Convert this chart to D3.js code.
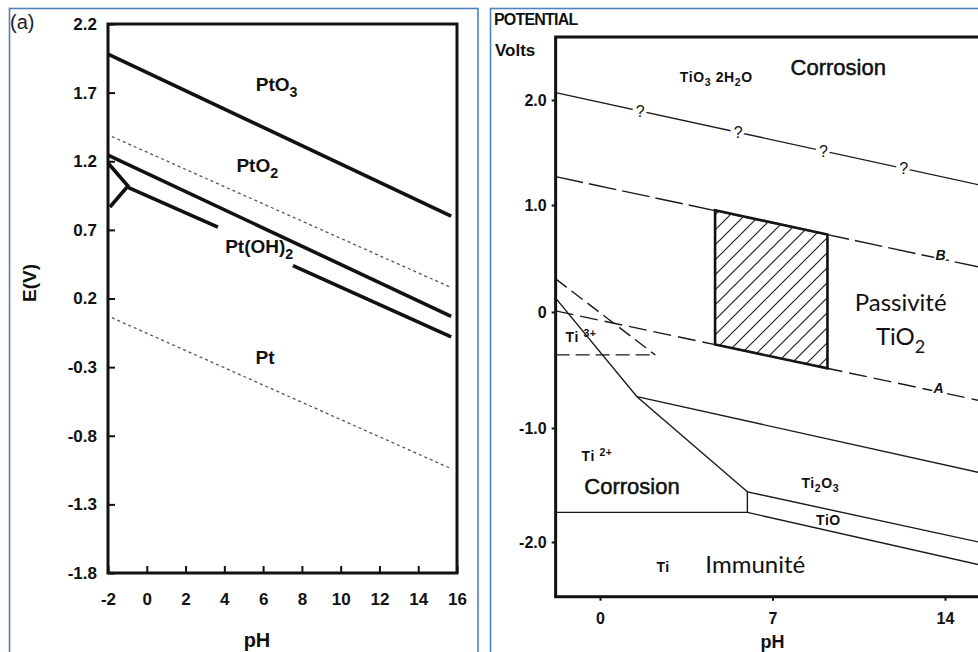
<!DOCTYPE html>
<html lang="en">
<head>
<meta charset="UTF-8">
<title>Diagrammes de Pourbaix Pt / Ti</title>
<script src="https://cdn.jsdelivr.net/npm/d3@7"></script>
<style>
	body { margin: 0; background: #fff; }
	svg { display: block; background: #fff; }
	.frame { fill: none; stroke: #4f81bd; stroke-width: 1.6px; }
	.axis path.domain { display: none; }
	.axis line { stroke: #111; stroke-width: 2px; }
	.axis text { font-family: "Liberation Sans", Arial, sans-serif; font-weight: bold; fill: #111; }
	.pt-axis text { font-size: 17px; }
	.ti-axis text { font-size: 16px; }
	.plot-box { fill: none; stroke: #111; stroke-width: 3px; }
	.pt-thick { fill: none; stroke: #111; stroke-width: 3.6px; }
	.pt-dot { fill: none; stroke: #555; stroke-width: 1.3px; stroke-dasharray: 3 3; }
	.ti-line { fill: none; stroke: #1a1a1a; stroke-width: 1.4px; }
	.ti-b { stroke-dasharray: 28 6; }
	.ti-a { stroke-dasharray: 18 7; }
	.ti-dash { stroke-dasharray: 14 6; }
	.passive { fill: url(#hatch); stroke: #111; stroke-width: 2.6px; stroke-linejoin: miter; }
	.title { font-family: "Liberation Sans", Arial, sans-serif; font-weight: bold; fill: #111; }
	.lbl-pt { font-family: "Liberation Sans", Arial, sans-serif; font-weight: bold; font-size: 19px; fill: #111; }
	.lbl-species { font-family: "Liberation Sans", Arial, sans-serif; font-weight: bold; font-size: 14px; letter-spacing: 0.6px; fill: #111; }
	.lbl-region { font-family: "Liberation Sans", Arial, sans-serif; font-size: 22px; fill: #111; stroke: #111; stroke-width: 0.5px; }
	.lbl-note { font-family: Lato, "Open Sans", sans-serif; font-size: 24px; fill: #111; }
	.lbl-line { font-family: "Liberation Sans", Arial, sans-serif; font-weight: bold; font-style: italic; font-size: 14px; fill: #111;
		stroke: #fff; stroke-width: 4px; paint-order: stroke; }
	.qmark { font-family: "Liberation Sans", Arial, sans-serif; font-size: 16px; fill: #111;
		stroke: #fff; stroke-width: 7px; paint-order: stroke; }
</style>
</head>
<body>
<script>
// ---------- (a) Pt diagram ----------
var ptPhTicks = [-2, 0, 2, 4, 6, 8, 10, 12, 14, 16];
var ptETicks = [2.2, 1.7, 1.2, 0.7, 0.2, -0.3, -0.8, -1.3, -1.8];

// solid boundaries [pH, E]
var ptSolidLines = [
	[[-2, 1.98], [15.7, 0.80]],
	[[-2, 1.245], [15.7, 0.07]],
	[[-0.97, 1.01], [3.67, 0.72]],
	[[7.54, 0.44], [15.7, -0.08]],
	[[-2, 1.187], [-0.97, 1.02], [-1.9, 0.867]]
];
// water stability lines (dotted)
var ptDottedLines = [
	[[-1.8, 1.38], [15.7, 0.28]],
	[[-1.8, 0.06], [15.7, -1.04]]
];
var ptLabels = [
	{ parts: [["PtO", ""], ["3", "sub"]], pH: 6.7, E: 1.76 },
	{ parts: [["PtO", ""], ["2", "sub"]], pH: 5.7, E: 1.17 },
	{ parts: [["Pt(OH)", ""], ["2", "sub"]], pH: 5.8, E: 0.58 },
	{ parts: [["Pt", ""]], pH: 6.1, E: -0.23 }
];

// ---------- Ti diagram ----------
var tiPhTicks = [0, 7, 14];
var tiETicks = [2, 1, 0, -1, -2];

var tiQueryLine = [[-1.8, 2.07], [16, 1.16]];
var tiQueryMarks = [1.63, 5.61, 9.07, 12.32];
var tiLineB = [[-1.8, 1.27], [16, 0.39]];
var tiLineA = [[-1.8, 0.01], [16, -0.79]];
var tiDashedLines = [
	[[-1.8, 0.31], [2.24, -0.37]],
	[[-1.8, -0.37], [2.24, -0.37]]
];
var tiSolidLines = [
	[[-1.8, 0.13], [1.5, -0.73], [5.98, -1.56]],
	[[1.5, -0.73], [16, -1.42]],
	[[-1.8, -1.74], [5.98, -1.74], [5.98, -1.56], [16, -2.03]],
	[[5.98, -1.74], [16, -2.23]]
];
var tiPassivePH = [4.67, 9.23];

var tiLabels = [
	{ kind: "species", parts: [["TiO", ""], ["3", "sub"], [" 2H", ""], ["2", "sub"], ["O", ""]], pH: 4.72, E: 2.22 },
	{ kind: "region", parts: [["Corrosion", ""]], pH: 9.67, E: 2.31 },
	{ kind: "species", parts: [["Ti ", ""], ["3+", "sup"]], pH: -0.77, E: -0.22 },
	{ kind: "species", parts: [["Ti ", ""], ["2+", "sup"]], pH: -0.12, E: -1.25 },
	{ kind: "region", parts: [["Corrosion", ""]], pH: 1.3, E: -1.51 },
	{ kind: "species", parts: [["Ti", ""], ["2", "sub"], ["O", ""], ["3", "sub"]], pH: 8.94, E: -1.48 },
	{ kind: "species", parts: [["TiO", ""]], pH: 9.27, E: -1.81 },
	{ kind: "species", parts: [["Ti", ""]], pH: 2.56, E: -2.22 },
	{ kind: "note", parts: [["Immunité", ""]], pH: 6.3, E: -2.2 },
	{ kind: "note", parts: [["Passivité", ""]], pH: 12.2, E: 0.084 },
	{ kind: "note", parts: [["TiO", ""], ["2", "sub"]], pH: 12.2, E: -0.216 },
	{ kind: "line", parts: [["B", ""]], pH: 13.82, E: 0.53 },
	{ kind: "line", parts: [["A", ""]], pH: 13.74, E: -0.655 }
];

var fontSize = { pt: 19, species: 14, region: 22, note: 24, line: 14 };

var width = 978, height = 652;
var svg = d3.select("body").append("svg")
	.attr("width", width)
	.attr("height", height);

// word-style blue frames round both pictures
svg.append("rect").attr("class", "frame")
	.attr("x", 9.5).attr("y", 8.5).attr("width", 468.5).attr("height", 680);
svg.append("rect").attr("class", "frame")
	.attr("x", 490.5).attr("y", 8.5).attr("width", 520).attr("height", 680);

// writes a label with sub / superscripts, centred on (x, y)
function richText(g, parts, x, y, cls, size) {
	var t = g.append("text")
		.attr("class", cls)
		.attr("x", x)
		.attr("y", y + size * 0.35)
		.attr("text-anchor", "middle");
	var shift = 0;
	parts.forEach(function (p) {
		var target = p[1] === "sub" ? size * 0.3 : p[1] === "sup" ? -size * 0.4 : 0;
		var ts = t.append("tspan").text(p[0]).attr("dy", target - shift);
		if (p[1]) ts.style("font-size", (size * 0.75) + "px");
		shift = target;
	});
	return t;
}

// ================= left panel =================
var xL = d3.scaleLinear().domain([-2, 16]).range([108, 457]);
var yL = d3.scaleLinear().domain([-1.8, 2.2]).range([573, 24]);
var lineL = d3.line().x(function (d) { return xL(d[0]); }).y(function (d) { return yL(d[1]); });

var gL = svg.append("g");

gL.append("g")
	.attr("class", "axis pt-axis")
	.attr("transform", "translate(" + xL(-2) + ",0)")
	.call(d3.axisLeft(yL).tickValues(ptETicks).tickSize(-7).tickPadding(11)
		.tickFormat(function (d) { return d.toFixed(1); }));

gL.append("g")
	.attr("class", "axis pt-axis")
	.attr("transform", "translate(0," + yL(-1.8) + ")")
	.call(d3.axisBottom(xL).tickValues(ptPhTicks).tickSize(-7).tickPadding(20)
		.tickFormat(function (d) { return String(d); }));

gL.selectAll(".pt-dot")
	.data(ptDottedLines)
	.enter().append("path")
	.attr("class", "pt-dot")
	.attr("d", lineL);

gL.selectAll(".pt-thick")
	.data(ptSolidLines)
	.enter().append("path")
	.attr("class", "pt-thick")
	.attr("d", lineL);

gL.append("rect")
	.attr("class", "plot-box")
	.attr("x", xL(-2)).attr("y", yL(2.2))
	.attr("width", xL(16) - xL(-2))
	.attr("height", yL(-1.8) - yL(2.2));

ptLabels.forEach(function (d) {
	richText(gL, d.parts, xL(d.pH), yL(d.E), "lbl-pt", fontSize.pt);
});

gL.append("text").attr("class", "title")
	.attr("x", 257).attr("y", 647)
	.style("font-size", "20px")
	.attr("text-anchor", "middle")
	.text("pH");

gL.append("text").attr("class", "title")
	.attr("transform", "translate(36,283) rotate(-90)")
	.style("font-size", "19px")
	.attr("text-anchor", "middle")
	.text("E(V)");

gL.append("text")
	.attr("x", 10).attr("y", 29)
	.style("font-family", "'Liberation Sans', Arial, sans-serif")
	.style("font-size", "20px")
	.attr("fill", "#222")
	.text("(a)");

// ================= right panel =================
var xR = d3.scaleLinear().domain([0, 14]).range([600, 945]);
// the scanned figure has uneven potential spacing, so the scale follows its ticks
var yR = d3.scaleLinear().domain([2, 1, 0, -1, -2]).range([100, 205, 312, 428, 542]);
var lineR = d3.line().x(function (d) { return xR(d[0]); }).y(function (d) { return yR(d[1]); });

var pLeft = xR(-1.8), pRight = xR(16), pTop = yR(2.6), pBottom = yR(-2.48);

var defs = svg.append("defs");
defs.append("clipPath").attr("id", "clipR")
	.append("rect")
	.attr("x", pLeft).attr("y", pTop)
	.attr("width", pRight - pLeft).attr("height", pBottom - pTop);

var hatch = defs.append("pattern")
	.attr("id", "hatch")
	.attr("patternUnits", "userSpaceOnUse")
	.attr("width", 15).attr("height", 15);
hatch.append("path")
	.attr("d", "M-2,2 l4,-4 M0,15 l15,-15 M13,17 l4,-4")
	.attr("stroke", "#222")
	.attr("stroke-width", 1.2);

var gR = svg.append("g");
var plotR = gR.append("g").attr("clip-path", "url(#clipR)");

function at(line, pH) {
	var a = line[0], b = line[line.length - 1];
	return a[1] + (b[1] - a[1]) * (pH - a[0]) / (b[0] - a[0]);
}

// passivity box between lines B and A
var box = [
	[tiPassivePH[0], at(tiLineB, tiPassivePH[0])],
	[tiPassivePH[1], at(tiLineB, tiPassivePH[1])],
	[tiPassivePH[1], at(tiLineA, tiPassivePH[1])],
	[tiPassivePH[0], at(tiLineA, tiPassivePH[0])]
];
plotR.append("path")
	.attr("class", "passive")
	.attr("d", lineR(box) + "Z");

plotR.append("path").datum(tiQueryLine).attr("class", "ti-line").attr("d", lineR);
plotR.append("path").datum(tiLineB).attr("class", "ti-line ti-b").attr("d", lineR);
plotR.append("path").datum(tiLineA).attr("class", "ti-line ti-a").attr("d", lineR);

plotR.selectAll(".ti-dash")
	.data(tiDashedLines)
	.enter().append("path")
	.attr("class", "ti-line ti-dash")
	.attr("d", lineR);

plotR.selectAll(".ti-solid")
	.data(tiSolidLines)
	.enter().append("path")
	.attr("class", "ti-line ti-solid")
	.attr("d", lineR);

plotR.selectAll(".qmark")
	.data(tiQueryMarks)
	.enter().append("text")
	.attr("class", "qmark")
	.attr("text-anchor", "middle")
	.attr("x", function (d) { return xR(d); })
	.attr("y", function (d) { return yR(at(tiQueryLine, d)) + 6; })
	.text("?");

tiLabels.forEach(function (d) {
	richText(gR, d.parts, xR(d.pH), yR(d.E), "lbl-" + d.kind, fontSize[d.kind]);
});

// axes
gR.append("g")
	.attr("class", "axis ti-axis")
	.attr("transform", "translate(" + pLeft + ",0)")
	.call(d3.axisLeft(yR).tickValues(tiETicks).tickSize(4).tickPadding(5)
		.tickFormat(function (d) { return d === 0 ? "0" : d.toFixed(1); }));

gR.append("g")
	.attr("class", "axis ti-axis")
	.attr("transform", "translate(0," + pBottom + ")")
	.call(d3.axisBottom(xR).tickValues(tiPhTicks).tickSize(4).tickPadding(12)
		.tickFormat(function (d) { return String(d); }));

gR.append("rect")
	.attr("class", "plot-box")
	.attr("x", pLeft).attr("y", pTop)
	.attr("width", pRight - pLeft)
	.attr("height", pBottom - pTop);

gR.append("text").attr("class", "title")
	.attr("x", 494).attr("y", 25)
	.style("font-size", "16px")
	.style("letter-spacing", "-0.8px")
	.text("POTENTIAL");

gR.append("text").attr("class", "title")
	.attr("x", 495).attr("y", 56)
	.style("font-size", "17px")
	.text("Volts");

gR.append("text").attr("class", "title")
	.attr("x", xR(7)).attr("y", 648)
	.style("font-size", "18px")
	.attr("text-anchor", "middle")
	.text("pH");
</script>
</body>
</html>
